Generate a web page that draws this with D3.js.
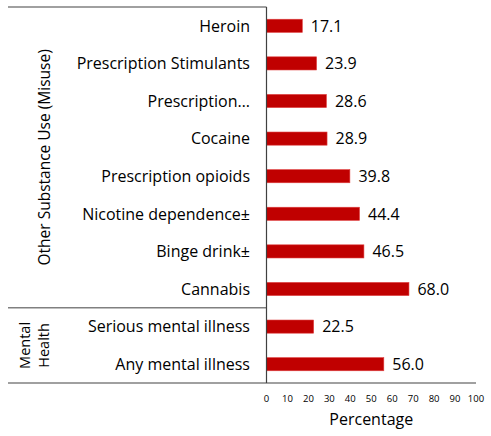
<!DOCTYPE html>
<html>
<head>
<meta charset="utf-8">
<script src="https://cdn.jsdelivr.net/npm/d3@7"></script>
<style>
  body { margin: 0; background: #fff; }
  svg text { font-family: "Open Sans", Lato, sans-serif; fill: #000; }
</style>
</head>
<body>
<svg id="chart" width="491" height="436"></svg>
<script>
// Prevalence by category, top to bottom
const categories = [
  "Heroin", "Prescription Stimulants", "Prescription…", "Cocaine",
  "Prescription opioids", "Nicotine dependence±", "Binge drink±", "Cannabis",
  "Serious mental illness", "Any mental illness"
];
const values = [17.1, 23.9, 28.6, 28.9, 39.8, 44.4, 46.5, 68.0, 22.5, 56.0];
const groups = [
  { name: ["Other Substance Use (Misuse)"], first: 0, last: 7 },
  { name: ["Mental", "Health"], first: 8, last: 9 }
];
const xTicks = [0, 10, 20, 30, 40, 50, 60, 70, 80, 90, 100];
const xTitle = "Percentage";

(function draw() {
  const svg = d3.select("#chart");
  const plotLeft = 266.5, plotRight = 476, plotTop = 7, plotBottom = 383, outerLeft = 8;

  const x = d3.scaleLinear().domain([0, 100]).range([plotLeft, plotRight]);
  const y = d3.scaleBand().domain(categories).range([plotTop, plotBottom])
    .paddingInner(0.65).paddingOuter(0.325);

  // Bars
  svg.append("g").selectAll("rect").data(values).join("rect")
    .attr("x", x(0))
    .attr("y", (d, i) => y(categories[i]))
    .attr("width", d => x(d) - x(0))
    .attr("height", y.bandwidth())
    .attr("fill", "#c00000")
    .attr("stroke", "#e04040")
    .attr("stroke-width", 0.6);

  // Value labels
  svg.append("g").selectAll("text").data(values).join("text")
    .attr("x", d => x(d) + 8.5)
    .attr("y", (d, i) => y(categories[i]) + y.bandwidth() / 2)
    .attr("dy", "0.36em")
    .attr("font-size", 16)
    .text(d => d.toFixed(1));

  // Category labels
  svg.append("g").selectAll("text").data(categories).join("text")
    .attr("x", 250)
    .attr("y", d => y(d) + y.bandwidth() / 2)
    .attr("dy", "0.36em")
    .attr("text-anchor", "end")
    .attr("font-size", 16)
    .text(d => d);

  // Frame lines: group separators and axes
  const step = y.step();
  const lineColor = "#808080";
  const separators = [plotTop, plotTop + step * 8];
  svg.append("g").selectAll("line").data(separators).join("line")
    .attr("x1", outerLeft).attr("x2", plotLeft)
    .attr("y1", d => d).attr("y2", d => d)
    .attr("stroke", lineColor).attr("stroke-width", 1.5);
  svg.append("line")
    .attr("x1", outerLeft).attr("x2", plotRight)
    .attr("y1", plotBottom).attr("y2", plotBottom)
    .attr("stroke", lineColor).attr("stroke-width", 1.5);
  svg.append("line")
    .attr("x1", plotLeft).attr("x2", plotLeft)
    .attr("y1", plotTop).attr("y2", plotBottom)
    .attr("stroke", "#404040").attr("stroke-width", 1.2);

  // Group labels (rotated, one line per entry)
  groups.forEach(g => {
    const y0 = plotTop + step * g.first;
    const y1 = plotTop + step * (g.last + 1);
    const cy = (y0 + y1) / 2;
    const n = g.name.length;
    const lineGap = 19;
    const t = svg.append("text")
      .attr("transform", `translate(${n === 1 ? 44 : 34},${cy}) rotate(-90)`)
      .attr("text-anchor", "middle")
      .attr("font-size", n === 1 ? 15.5 : 14.5);
    g.name.forEach((line, i) => {
      t.append("tspan").attr("x", 0)
        .attr("y", (i - (n - 1) / 2) * lineGap)
        .attr("dy", "0.36em")
        .text(line);
    });
  });

  // X axis tick labels
  svg.append("g").selectAll("text").data(xTicks).join("text")
    .attr("x", d => x(d))
    .attr("y", 399)
    .attr("dy", "0.36em")
    .attr("text-anchor", "middle")
    .attr("font-size", 9.5)
    .text(d => d);

  svg.append("text")
    .attr("x", (plotLeft + plotRight) / 2)
    .attr("y", 419)
    .attr("dy", "0.36em")
    .attr("text-anchor", "middle")
    .attr("font-size", 16)
    .text(xTitle);
})();
</script>
</body>
</html>
